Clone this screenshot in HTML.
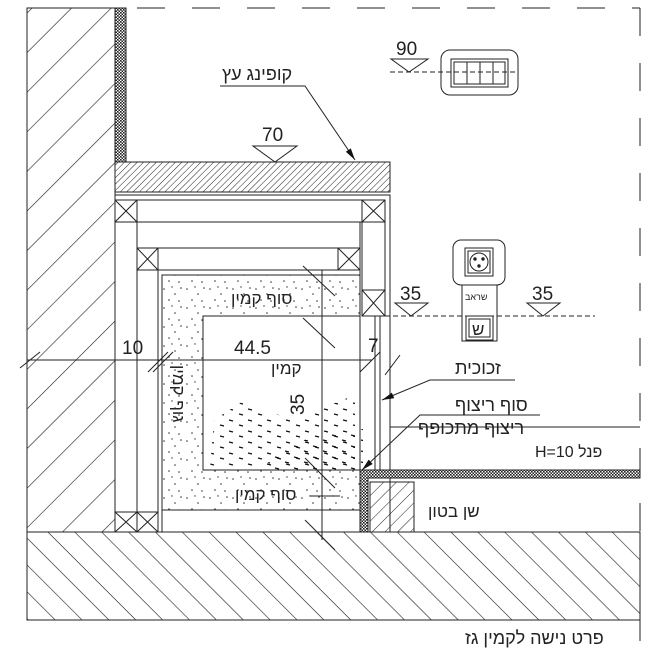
<!DOCTYPE html>
<html><head><meta charset="utf-8"><style>
html,body{margin:0;padding:0;background:#fff;}
svg{display:block;}
text{font-family:"Liberation Sans","Noto Sans CJK SC",sans-serif;fill:#222;}
</style></head><body>
<svg width="650" height="659" viewBox="0 0 650 659" xmlns="http://www.w3.org/2000/svg">
<defs>
<pattern id="wallH" width="28" height="28" patternUnits="userSpaceOnUse" patternTransform="rotate(-45)">
<line x1="0" y1="0" x2="40" y2="0" stroke="#222" stroke-width="1.2"/>
</pattern>
<pattern id="floorH" width="19" height="19" patternUnits="userSpaceOnUse" patternTransform="rotate(45)">
<line x1="0" y1="0" x2="40" y2="0" stroke="#222" stroke-width="1.2"/>
</pattern>
<pattern id="fineH" width="4.5" height="4.5" patternUnits="userSpaceOnUse" patternTransform="rotate(-45)">
<line x1="0" y1="0" x2="10" y2="0" stroke="#222" stroke-width="1"/>
</pattern>
<pattern id="blockH" width="9" height="9" patternUnits="userSpaceOnUse" patternTransform="rotate(-45)">
<line x1="0" y1="0" x2="20" y2="0" stroke="#222" stroke-width="1"/>
</pattern>
<pattern id="mesh" width="3" height="3" patternUnits="userSpaceOnUse">
<rect width="3" height="3" fill="#fff"/><rect width="1.6" height="1.6" fill="#222"/><rect x="1.5" y="1.5" width="1.5" height="1.5" fill="#222"/>
</pattern>
<pattern id="dots" width="23" height="19" patternUnits="userSpaceOnUse">
<circle cx="3" cy="4" r=".8" fill="#333"/><circle cx="14" cy="9" r=".8" fill="#333"/><circle cx="20" cy="3" r=".8" fill="#333"/>
<circle cx="8" cy="15" r=".8" fill="#333"/><circle cx="18" cy="16" r=".8" fill="#333"/><circle cx="11" cy="2" r=".7" fill="#333"/>
</pattern>
<pattern id="fire" width="19" height="11" patternUnits="userSpaceOnUse">
<line x1="1" y1="2" x2="5" y2="3" stroke="#111" stroke-width="1.3"/><line x1="11" y1="7" x2="15" y2="8" stroke="#111" stroke-width="1.3"/>
</pattern>
<marker id="arr" markerWidth="12" markerHeight="6" refX="12" refY="3" orient="auto" markerUnits="userSpaceOnUse">
<path d="M0,0 L12,3 L0,6 Z" fill="#111"/>
</marker>
</defs>

<g stroke="#222" stroke-width="1" fill="none">
<line x1="27" y1="8" x2="640" y2="8" stroke-dasharray="28,27"/>
<line x1="640" y1="8" x2="640" y2="650" stroke-dasharray="28,27"/>

<rect x="27" y="8" width="88" height="524" fill="url(#wallH)"/>
<rect x="115" y="8" width="11" height="154" fill="url(#mesh)"/>

<rect x="115" y="162" width="275" height="30" fill="url(#fineH)"/>

<rect x="115" y="195" width="275" height="337"/>
<line x1="137" y1="200" x2="137" y2="532"/>
<line x1="158" y1="248" x2="158" y2="532"/>
<line x1="115" y1="200" x2="385" y2="200"/>
<line x1="137" y1="222" x2="362" y2="222"/>
<line x1="158" y1="248" x2="360" y2="248"/>
<line x1="158" y1="270" x2="360" y2="270"/>
<rect x="362" y="200" width="23" height="116"/>
<line x1="360" y1="222" x2="360" y2="275"/>
<g>
<rect x="115" y="200" width="22" height="22"/><path d="M115,200 L137,222 M137,200 L115,222"/>
<rect x="137" y="248" width="21" height="22"/><path d="M137,248 L158,270 M158,248 L137,270"/>
<rect x="338" y="248" width="22" height="22"/><path d="M338,248 L360,270 M360,248 L338,270"/>
<rect x="362" y="200" width="23" height="22"/><path d="M362,200 L385,222 M385,200 L362,222"/>
<rect x="362" y="290" width="23" height="26"/><path d="M362,290 L385,316 M385,290 L362,316"/>
<rect x="115" y="512" width="22" height="20"/><path d="M115,512 L137,532 M137,512 L115,532"/>
<rect x="137" y="512" width="21" height="20"/><path d="M137,512 L158,532 M158,512 L137,532"/>
</g>
<path d="M162,275 H360 V316 H203 V470 H360 V510 H162 Z" fill="url(#dots)"/>
<line x1="162" y1="275" x2="162" y2="532"/>
<line x1="162" y1="510" x2="360" y2="510"/>
<rect x="203" y="316" width="157" height="154"/>
<path d="M210,468 L214,420 L245,400 L290,420 L330,405 L355,395 L355,468 Z" fill="url(#fire)" stroke="none"/>
<path d="M250,468 L280,440 L320,430 L355,425 L355,468 Z" fill="url(#fire)" stroke="none" transform="translate(8,4)"/>
<line x1="322" y1="270" x2="322" y2="540"/>
<line x1="360" y1="316" x2="360" y2="470"/>
<line x1="375" y1="316" x2="375" y2="470"/>
<line x1="380" y1="316" x2="380" y2="470"/>
<line x1="390" y1="195" x2="390" y2="470"/>
<line x1="27" y1="360" x2="372" y2="360"/>
<path d="M20,368 L40,352 M148,372 L168,352 M153,372 L173,352"/>
<path d="M303,266 L335,296 M303,318 L335,348 M305,458 L335,488 M305,520 L335,550"/>
<path d="M360,372 L380,352 M385,375 L400,355"/>
<line x1="310" y1="496" x2="340" y2="496"/>
<rect x="27" y="532" width="613" height="88" fill="url(#floorH)"/>
<line x1="27" y1="532" x2="640" y2="532"/>
<line x1="27" y1="620" x2="640" y2="620"/>
<path d="M360,470 H640 V478 H368 V532 H360 Z" fill="url(#mesh)"/>
<rect x="370" y="482" width="44" height="50" fill="url(#blockH)"/>
<line x1="390" y1="427" x2="640" y2="427"/>

<line x1="385" y1="316" x2="595" y2="316" stroke-dasharray="5,3"/>
<path d="M395,303 L428,303 L411,316 Z M527,303 L560,303 L543,316 Z"/>
<path d="M253,146 L297,146 L275,162 Z"/>
<line x1="390" y1="72" x2="518" y2="72" stroke-dasharray="5,3"/>
<path d="M391,59 L428,59 L409,72 Z"/>
<rect x="441" y="50" width="77" height="45" rx="9"/>
<rect x="451" y="59" width="57" height="28"/>
<rect x="454" y="62" width="51" height="22"/>
<path d="M467,62 V84 M480,62 V84 M493,62 V84"/>
<rect x="453" y="240" width="52" height="45" rx="8"/>
<rect x="465" y="248" width="28" height="28"/>
<rect x="468" y="251" width="22" height="22"/>
<circle cx="479" cy="262" r="9"/>
<circle cx="475" cy="259" r="1.2" fill="#222"/><circle cx="483" cy="259" r="1.2" fill="#222"/><circle cx="479" cy="266" r="1.2" fill="#222"/>
<rect x="462" y="285" width="35" height="56"/>
<rect x="466" y="316" width="27" height="24"/>
<rect x="469" y="319" width="21" height="18"/>

<path d="M220,86 H305 L355,160" marker-end="url(#arr)"/>
<path d="M515,380 H430 L382,400" marker-end="url(#arr)"/>
<path d="M540,415 H420 L362,470" marker-end="url(#arr)"/>
</g>

<g font-size="19">
<text x="222" y="80" font-size="18">קופינג עץ</text>
<text x="262" y="141">70</text>
<text x="396" y="55">90</text>
<text x="400" y="300">35</text>
<text x="532" y="300">35</text>
<text x="122" y="354">10</text>
<text x="234" y="354">44.5</text>
<text x="368" y="352">7</text>
<text x="231" y="304" font-size="17">סוף קמין</text>
<text x="271" y="374" font-size="17">קמין</text>
<text x="235" y="500" font-size="17">סוף קמין</text>
<text transform="translate(304,415) rotate(-90)">35</text>
<text transform="translate(173,365) rotate(90)" font-size="17">גוף קמין</text>
<text x="465" y="300" font-size="9">שראב</text>
<text x="472" y="335" font-size="17">ש</text>
<text x="455" y="374" font-size="18">זכוכית</text>
<text x="455" y="411" font-size="18">סוף ריצוף</text>
<text x="418" y="434" font-size="18">ריצוף מתכופף</text>
<text x="535" y="457" font-size="16">H=10 פנל</text>
<text x="428" y="517" font-size="17">שן בטון</text>
<text x="465" y="644" font-size="18">פרט נישה לקמין גז</text>
</g>
</svg>
</body></html>
